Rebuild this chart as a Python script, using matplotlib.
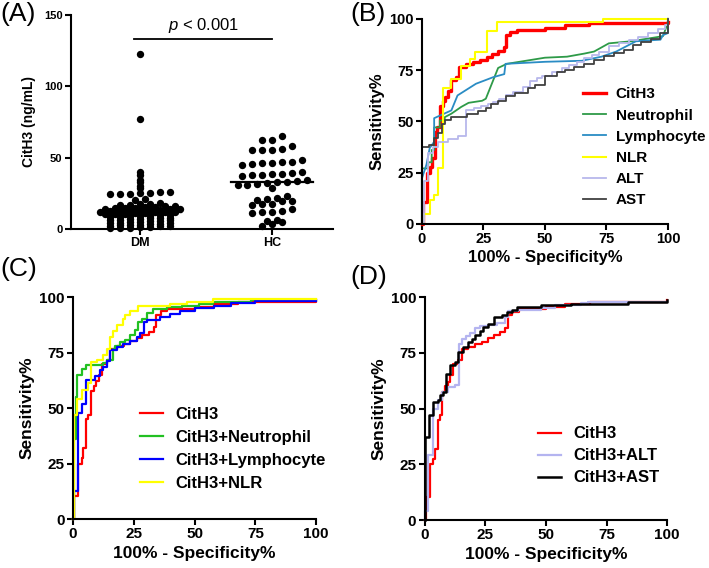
import numpy as np
import matplotlib
matplotlib.use('Agg')
import matplotlib.pyplot as plt

plt.rcParams['font.family'] = ['Liberation Sans', 'DejaVu Sans']
plt.rcParams['mathtext.fontset'] = 'custom'
plt.rcParams['mathtext.it'] = 'Liberation Sans:italic'
plt.rcParams['mathtext.rm'] = 'Liberation Sans'

# ---- (A) CitH3 levels, ng/mL ----
groups = ['DM', 'HC']
dm_vals = [122.5, 77.0,
           40.0, 37.5, 34.5, 32.7, 30.0, 28.7,
           24.2, 24.5, 24.8, 25.0, 25.3, 25.6, 25.9,
           20.5, 21.0,
           16.5, 17.0, 17.3, 17.6, 17.9,
           14.1, 14.4, 14.7, 14.9, 15.2, 15.4, 15.7, 15.9,
           12.1, 12.3, 12.6, 12.8, 13.0, 13.2, 13.5, 13.7, 13.9,
           10.1, 10.4, 10.7, 11.0, 11.2, 11.5, 11.7, 11.9,
           8.1, 8.4, 8.7, 9.0, 9.3, 9.6, 9.9,
           6.1, 6.4, 6.7, 7.0, 7.3, 7.6, 7.9,
           4.1, 4.4, 4.7, 5.0, 5.3, 5.6, 5.9,
           2.1, 2.4, 2.7, 3.0, 3.3, 3.6, 3.9,
           0.3, 0.6, 0.9, 1.2, 1.5, 1.7, 1.9]
hc_vals = [62.0, 62.5, 64.8,
           55.0, 55.3, 55.6, 56.0, 57.9,
           45.0, 45.5, 46.0, 46.2, 46.6, 46.8, 48.5,
           36.9, 37.5, 38.0, 38.2, 38.7, 39.2, 39.6,
           30.5, 31.0, 31.8, 32.2, 32.6, 33.0, 33.4, 34.0,
           29.0,
           20.5, 21.0, 21.7, 23.0,
           17.0, 17.2, 17.5, 19.4, 19.6,
           11.2, 11.5, 12.0, 12.4, 14.0,
           5.4, 6.5,
           2.0, 3.7, 4.7]

# ---- ROC curves: 1-specificity (%) and sensitivity (%) ----
cith3_x = [0, 0.4, 2.0, 3.5, 4.2, 5.4, 6.3, 7.3, 8.5, 9.5, 10.5, 11.8, 13.9, 15.3, 18.0,
           20.8, 23.6, 26.3, 28.4, 31.1, 33.2, 34.3, 36.0, 38.7, 50.0, 58.0, 68.0, 100]
cith3_y = [0, 10.5, 25.0, 27.5, 32.0, 45.0, 47.0, 57.5, 60.0, 62.0, 65.0, 70.0, 71.8, 76.5, 77.8,
           79.0, 80.0, 81.5, 82.8, 84.3, 86.3, 92.0, 93.5, 94.5, 95.5, 97.0, 98.0, 98.5]

neut_x = [0, 0, 2.6, 2.6, 4, 4, 5, 5, 7.3, 7.3, 9.3, 9.3, 12, 16, 19, 24.5, 26, 31, 34.5,
          50, 59, 66, 70, 76, 85, 98, 100, 100]
neut_y = [0, 27, 27, 30, 30, 36, 36, 47, 47, 50.4, 50.4, 52, 53.7, 57, 59, 60, 61, 76, 78,
          81, 81.5, 83, 84, 88, 89, 91.5, 98, 100]

lymph_x = [0, 0, 1.9, 3.2, 5, 5, 12, 14.5, 22, 29, 33.5, 34, 42, 50, 65, 73, 79, 87, 97, 98, 100, 100]
lymph_y = [0, 22, 29, 37, 40, 51.5, 55.3, 62.6, 68.3, 71.5, 73, 78, 78.5, 79, 79.5, 81.5, 84, 89, 89.8,
           92, 93, 98]

nlr_x = [0, 0.8, 3.3, 5.0, 6.5, 8.5, 12.0, 16.0, 19.5, 21.5, 26.5, 30.5, 73.5, 100]
nlr_y = [0, 5.0, 11.5, 13.8, 27.0, 66.0, 70.5, 77.0, 80.5, 84.0, 94.0, 98.5, 100, 100]

alt_x = [0, 0.7, 2.5, 4.5, 6.5, 10.5, 14.5, 18, 21, 24, 27, 29, 31.5, 34, 37, 41, 44, 47, 49,
         53, 57, 60, 63, 66, 69, 72, 76, 80, 84, 88, 92, 96, 99, 100]
alt_y = [0, 21, 34.5, 37.5, 40, 41.5, 43, 55.5, 56.5, 57.5, 58.5, 59.5, 61, 63, 64.5, 66.5, 69.5,
         71, 72, 74, 76, 77.5, 79, 81, 82.5, 84, 86.5, 88, 89.5, 91, 93, 95, 97, 100]

ast_x = [0, 0, 3, 5, 6.5, 8, 9.5, 12, 18.5, 23, 26, 28, 31, 34, 38, 43, 46, 50, 55, 58, 62, 66,
         70, 74, 78, 82, 86, 89, 93, 97, 100]
ast_y = [0, 37.5, 38.5, 42, 44.5, 48.5, 50.5, 52, 53.5, 55, 56.5, 58.5, 60, 62.5, 64, 66, 67.5,
         72, 74, 75, 76.5, 78, 80, 82, 83.5, 85, 87, 88.5, 90, 93, 100]

c_neut_x = [0, 0.3, 1.2, 1.8, 3.6, 5.3, 12.5, 14, 16.5, 17.3, 19.3, 21.4, 23.5, 25.5, 26.9,
            28.3, 30.3, 33, 38.5, 45, 52, 57.7, 64, 73, 100]
c_neut_y = [0, 36, 55, 64.7, 67.7, 69.5, 70.5, 71.5, 76.5, 78, 79.7, 80.5, 82.7, 85, 88.7,
            90, 93, 94.7, 95.5, 96.2, 97, 97.6, 98, 98.5, 98.5]

c_lymph_x = [0, 0.3, 2.2, 3.6, 5.3, 9, 11.1, 12.5, 13.9, 15.2, 18, 20.7, 23.5, 26.2, 27.6, 29,
             30.3, 35.8, 40, 44, 50, 58, 65, 75, 100]
c_lymph_y = [0, 12.5, 48, 52, 62.5, 64.5, 67, 68.5, 71, 76, 77.5, 79, 80, 82, 84, 88.7,
             89.5, 91, 92.5, 93.5, 95, 96, 97.5, 98.2, 98.2]

c_nlr_x = [0, 0.2, 1.8, 3.6, 6.3, 7.3, 9.7, 12.5, 13.9, 15, 16.6, 18, 20.7, 21.5, 23.5, 26.9,
           40, 46.7, 57.7, 100]
c_nlr_y = [0, 47, 54, 58, 61.5, 70.7, 71.5, 73.7, 76.5, 82, 84.5, 87.5, 90, 92, 93.5, 95.8,
           97, 98, 99, 99]

d_alt_x = [0, 0.3, 1.5, 3.6, 5.4, 7, 9.8, 12.5, 14, 15.5, 17, 18.6, 20.6, 23, 26.1, 30, 33,
           34.4, 38.5, 48, 53.6, 64.6, 67.4, 100]
d_alt_y = [0, 4, 29, 50, 54, 57.5, 59.5, 60.4, 79, 81, 82.5, 84, 86, 86.8, 87.5, 88.3, 91,
           93.6, 94.3, 95, 96.6, 97.3, 98, 98]

d_ast_x = [0, 0, 1.8, 3.6, 5.4, 6.3, 7.7, 8.7, 10.5, 12.5, 13.9, 16, 18, 19.4, 20.8, 22.9,
           24.2, 26.3, 28.4, 31.8, 33.9, 36, 38, 48, 60.5, 84, 100]
d_ast_y = [0, 37.2, 47, 53, 54, 56, 57.4, 65.6, 69.4, 71, 75.3, 77.6, 79.8, 81.3, 82.8, 85,
           86.5, 88, 91, 91.8, 93.3, 94, 95.5, 96.3, 97, 98, 98.8]


def dot_x(vals, center, bin_w, step):
    # GraphPad-like column scatter: points in the same value band spread sideways
    vals = np.sort(np.asarray(vals))
    xs = np.zeros(len(vals))
    bins = np.floor(vals / bin_w)
    for b in np.unique(bins):
        idx = np.where(bins == b)[0]
        xs[idx] = center + (np.arange(len(idx)) - (len(idx) - 1) / 2) * step
    return xs, vals


def style_axes(ax, tick_fs, sw=1.5):
    for s in ['top', 'right']:
        ax.spines[s].set_visible(False)
    for s in ['left', 'bottom']:
        ax.spines[s].set_linewidth(sw)
    ax.tick_params(width=sw, length=4.5, labelsize=tick_fs, pad=1.5)
    for lab in ax.get_xticklabels() + ax.get_yticklabels():
        lab.set_fontweight('bold')


def roc_axes(ax, tick_fs, label_fs):
    ax.set_xlim(0, 100)
    ax.set_ylim(0, 100)
    ax.set_xticks([0, 25, 50, 75, 100])
    ax.set_yticks([0, 25, 50, 75, 100])
    style_axes(ax, tick_fs)
    ax.set_xlabel('100% - Specificity%', fontsize=label_fs, fontweight='bold', labelpad=3)
    ax.set_ylabel('Sensitivity%', fontsize=label_fs, fontweight='bold', labelpad=3)


fig = plt.figure(figsize=(7.09, 5.68), dpi=100)

# (A)
axA = fig.add_axes([0.100, 0.597, 0.370, 0.377])
step = 0.075
for i, vals in enumerate([dm_vals, hc_vals]):
    bw = 2 if i == 0 else 5
    xs, ys = dot_x(vals, i, bw, step)
    axA.scatter(xs, ys, s=28, color='black', zorder=3, clip_on=False, linewidths=0)
    med = np.median(vals)
    axA.plot([i - 0.31, i + 0.31], [med, med], color='black', lw=1.6, zorder=4)
axA.plot([-0.04, 1.0], [133, 133], color='black', lw=1.3)
axA.text(0.48, 139, '$p$ < 0.001', ha='center', va='baseline', fontsize=12)
axA.set_xlim(-0.52, 1.46)
axA.set_ylim(0, 150)
axA.set_yticks([0, 50, 100, 150])
axA.set_xticks([0, 1])
axA.set_xticklabels(groups)
style_axes(axA, 8)
for lab in axA.get_xticklabels():
    lab.set_fontsize(9)
axA.set_ylabel('CitH3 (ng/mL)', fontsize=10, fontweight='bold', labelpad=6)

# (B)
axB = fig.add_axes([0.595, 0.606, 0.347, 0.361])
axB.plot(cith3_x, cith3_y, drawstyle='steps-post', color='#ff0000', lw=2.4, label='CitH3', clip_on=False)
axB.plot(neut_x, neut_y, color='#2e9a48', lw=1.3, label='Neutrophil', clip_on=False)
axB.plot(lymph_x, lymph_y, color='#2a8cc4', lw=1.3, label='Lymphocyte', clip_on=False)
axB.plot(nlr_x, nlr_y, drawstyle='steps-post', color='#ffff00', lw=1.5, label='NLR', clip_on=False)
axB.plot(alt_x, alt_y, drawstyle='steps-post', color='#b8b8ec', lw=1.3, label='ALT', clip_on=False)
axB.plot(ast_x, ast_y, drawstyle='steps-post', color='#404040', lw=1.3, label='AST', clip_on=False)
roc_axes(axB, 10.5, 12)
axB.legend(loc='upper left', bbox_to_anchor=(0.655, 0.665), frameon=False,
           prop={'weight': 'bold', 'size': 11}, handlelength=1.5, handletextpad=0.65,
           labelspacing=0.47, borderpad=0, borderaxespad=0)

# (C)
axC = fig.add_axes([0.103, 0.086, 0.343, 0.391])
axC.plot(cith3_x, cith3_y, drawstyle='steps-post', color='#ff0000', lw=1.6, label='CitH3', clip_on=False)
axC.plot(c_neut_x, c_neut_y, drawstyle='steps-post', color='#22c022', lw=1.6, label='CitH3+Neutrophil', clip_on=False)
axC.plot(c_lymph_x, c_lymph_y, drawstyle='steps-post', color='#0000ff', lw=1.6, label='CitH3+Lymphocyte', clip_on=False)
axC.plot(c_nlr_x, c_nlr_y, drawstyle='steps-post', color='#ffff00', lw=1.6, label='CitH3+NLR', clip_on=False)
roc_axes(axC, 11, 12.5)
axC.legend(loc='upper left', bbox_to_anchor=(0.276, 0.505), frameon=False,
           prop={'weight': 'bold', 'size': 12}, handlelength=1.4, handletextpad=0.7,
           labelspacing=0.48, borderpad=0, borderaxespad=0)

# (D)
axD = fig.add_axes([0.599, 0.0845, 0.342, 0.3925])
axD.plot(cith3_x, cith3_y, drawstyle='steps-post', color='#ff0000', lw=1.6, label='CitH3', clip_on=False)
axD.plot(d_alt_x, d_alt_y, drawstyle='steps-post', color='#b4b4f0', lw=1.6, label='CitH3+ALT', clip_on=False)
axD.plot(d_ast_x, d_ast_y, drawstyle='steps-post', color='#000000', lw=1.8, label='CitH3+AST', clip_on=False)
roc_axes(axD, 11, 12.5)
axD.legend(loc='upper left', bbox_to_anchor=(0.467, 0.42), frameon=False,
           prop={'weight': 'bold', 'size': 12}, handlelength=1.4, handletextpad=0.7,
           labelspacing=0.42, borderpad=0, borderaxespad=0)

# panel letters
for lbl, x, y in [('(A)', 0.0, 0.976), ('(B)', 0.494, 0.976), ('(C)', 0.0, 0.527), ('(D)', 0.494, 0.512)]:
    fig.text(x, y, lbl, fontsize=19, ha='left', va='center')

fig.savefig('out.png', dpi=100)
